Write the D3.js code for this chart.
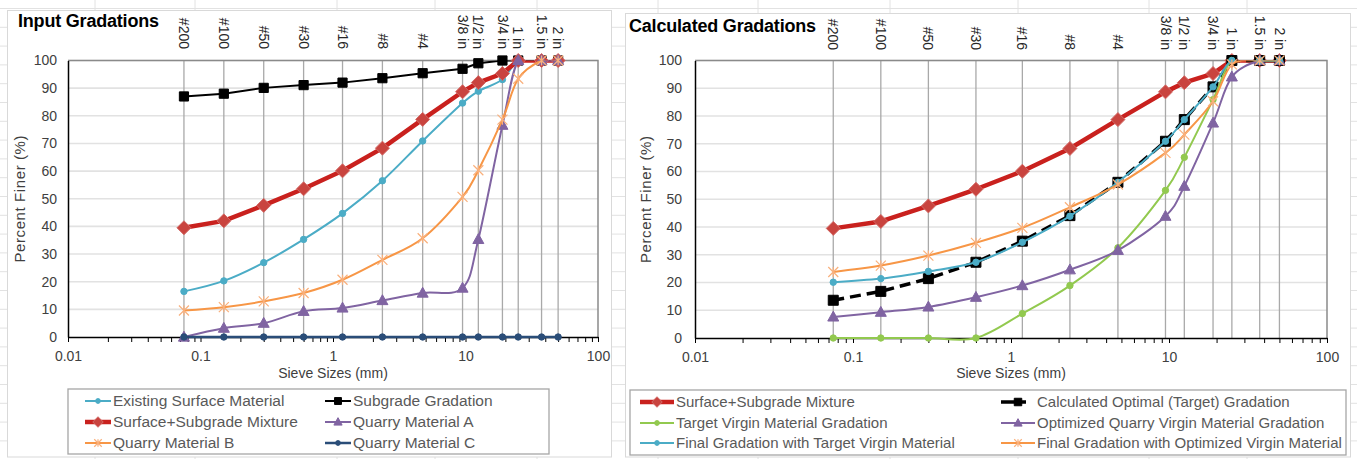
<!DOCTYPE html>
<html>
<head>
<meta charset="utf-8">
<script src="https://cdn.jsdelivr.net/npm/d3@7"></script>
<style>
  body { margin: 0; background: #fff; }
  svg { display: block; font-family: "Liberation Sans", Arial, sans-serif; }
</style>
</head>
<body>
<div id="chart"></div>
<script>
// sieve sizes (mm) and their names
var sieves = [0.075, 0.15, 0.3, 0.6, 1.18, 2.36, 4.75, 9.5, 12.5, 19, 25, 37.5, 50];
var sieveLabels = ["#200", "#100", "#50", "#30", "#16", "#8", "#4", "3/8 in", "1/2 in", "3/4 in", "1 in", "1.5 in", "2 in"];
var xMajorTicks = [0.01, 0.1, 1, 10, 100];
var yTicks = [0, 10, 20, 30, 40, 50, 60, 70, 80, 90, 100];

// input gradations (percent finer)
var existingSurface = [16.5, 20.3, 26.9, 35.3, 44.7, 56.5, 70.9, 84.6, 88.9, 93.1, 100, 100, 100];
var subgrade        = [87, 88, 90.1, 91.1, 92, 93.6, 95.4, 97, 99, 100, 100, 100, 100];
var surfaceSubgrade = [39.5, 42, 47.6, 53.6, 60.1, 68.3, 78.7, 88.7, 92, 95.3, 100, 100, 100];
var quarryA         = [0, 3.2, 5, 9.3, 10.5, 13.2, 15.9, 17.7, 35.3, 76.6, 100, 100, 100];
var quarryB         = [9.6, 10.8, 12.9, 15.9, 20.7, 27.9, 35.7, 50.7, 60.3, 78.6, 93.4, 100, 100];
var quarryC         = [0, 0, 0, 0, 0, 0, 0, 0, 0, 0, 0, 0, 0];

// calculated gradations (percent finer)
var targetGradation   = [13.6, 16.8, 21.4, 27.3, 34.9, 44.1, 56.1, 70.9, 78.7, 90.5, 100, 100, 100];
var targetVirgin      = [0, 0, 0, 0, 8.8, 18.9, 32.5, 53.2, 65.1, 85.9, 100, 100, 100];
var optimizedVirgin   = [7.6, 9.3, 11.2, 14.7, 18.9, 24.6, 31.6, 43.9, 54.7, 77.5, 94.1, 100, 100];
var finalTarget       = [20.1, 21.4, 24, 27.3, 34.5, 43.9, 56.1, 70.9, 78.7, 90.5, 100, 100, 100];
var finalOptimized    = [23.8, 26.1, 29.7, 34.3, 39.7, 47.1, 55.3, 66.7, 73.3, 85.3, 98.6, 100, 100];

var width = 1357, height = 459;

var svg = d3.select("#chart").append("svg")
    .attr("width", width)
    .attr("height", height);

// spreadsheet cells behind the two charts
var cells = svg.append("g").attr("stroke", "#e2e2e2").attr("stroke-width", 1);
d3.range(0, 25).forEach(function(i) {
    var yy = 8.5 + i * 18.8;
    cells.append("line").attr("x1", 0).attr("x2", width).attr("y1", yy).attr("y2", yy);
});
[95, 195, 337, 435, 537, 658, 758, 890, 1018, 1149, 1247].forEach(function(xx) {
    cells.append("line").attr("x1", xx).attr("x2", xx).attr("y1", 0).attr("y2", height);
});

function markerPath(type, s) {
    if (type == "circle") return d3.symbol().type(d3.symbolCircle).size(Math.PI * s * s)();
    if (type == "square") return "M" + (-s) + "," + (-s) + "H" + s + "V" + s + "H" + (-s) + "Z";
    if (type == "diamond") return "M0," + (-s) + "L" + s + ",0L0," + s + "L" + (-s) + ",0Z";
    if (type == "triangle") return "M0," + (-s * 1.05) + "L" + s + "," + (s * 0.75) + "L" + (-s) + "," + (s * 0.75) + "Z";
    if (type == "star") return "M" + (-s) + "," + (-s) + "L" + s + "," + s + "M" + s + "," + (-s) + "L" + (-s) + "," + s + "M0," + (-s) + "V" + s;
    return "";
}

function drawMarker(sel, s, scale) {
    sel.attr("d", markerPath(s.marker, s.size * (scale || 1)))
        .attr("fill", s.marker == "star" ? "none" : s.markerFill)
        .attr("stroke", s.markerStroke)
        .attr("stroke-width", s.marker == "star" ? 1.2 : 1);
}

var chartCount = 0;

function drawChart(opt) {
    var g = svg.append("g");
    var clipId = "plotclip" + (chartCount++);

    // chart area
    g.append("rect")
        .attr("x", opt.area[0]).attr("y", opt.area[1])
        .attr("width", opt.area[2] - opt.area[0]).attr("height", opt.area[3] - opt.area[1])
        .attr("fill", "white").attr("stroke", "#d9d9d9");

    g.append("clipPath").attr("id", clipId)
        .append("rect")
        .attr("x", opt.left).attr("y", opt.top)
        .attr("width", opt.right - opt.left).attr("height", opt.bottom - opt.top + 3);

    var x = d3.scaleLog().domain([0.01, 100]).range([opt.left, opt.right]);
    var y = d3.scaleLinear().domain([0, 100]).range([opt.bottom, opt.top]);

    // horizontal grid
    g.append("g").selectAll("line").data(yTicks.slice(1)).join("line")
        .attr("x1", opt.left).attr("x2", opt.right)
        .attr("y1", d => y(d)).attr("y2", d => y(d))
        .attr("stroke", "#e2e2e2").attr("stroke-width", 1.6);

    // vertical sieve lines
    g.append("g").selectAll("line").data(sieves).join("line")
        .attr("x1", d => x(d)).attr("x2", d => x(d))
        .attr("y1", opt.top).attr("y2", opt.bottom)
        .attr("stroke", "#a9a9a9").attr("stroke-width", 1.3);

    // top and right border of the plot
    g.append("path")
        .attr("d", "M" + opt.left + "," + opt.top + "H" + opt.right + "V" + opt.bottom)
        .attr("fill", "none").attr("stroke", "#8a8a8a").attr("stroke-width", 1.5);

    // x axis with log minor ticks
    var allTicks = [];
    [0.01, 0.1, 1, 10].forEach(function(dec) {
        d3.range(1, 10).forEach(function(k) { allTicks.push(dec * k); });
    });
    allTicks.push(100);
    var xAxis = g.append("g")
        .attr("transform", "translate(0," + opt.bottom + ")")
        .call(d3.axisBottom(x)
            .tickValues(allTicks)
            .tickSize(5)
            .tickSizeOuter(0)
            .tickPadding(9)
            .tickFormat(d => xMajorTicks.some(m => Math.abs(m - d) < 1e-9) ? String(+d.toPrecision(3)) : ""));
    xAxis.attr("font-size", 14).attr("font-family", null);
    xAxis.select(".domain").attr("stroke", "#000").attr("stroke-width", 1.5);
    xAxis.selectAll(".tick line").attr("stroke", "#000").attr("stroke-width", 1);
    xAxis.selectAll(".tick text").attr("fill", "#404040");

    var yAxis = g.append("g")
        .attr("transform", "translate(" + opt.left + ",0)")
        .call(d3.axisLeft(y).tickValues(yTicks).tickSize(0).tickPadding(opt.yPad));
    yAxis.attr("font-size", 14).attr("font-family", null);
    yAxis.select(".domain").attr("stroke", "#000").attr("stroke-width", 1.5);
    yAxis.selectAll(".tick text").attr("fill", "#404040");

    // sieve names above the plot
    g.append("g").selectAll("text").data(sieves).join("text")
        .attr("transform", d => "translate(" + x(d) + "," + opt.labelY + ") rotate(90)")
        .attr("text-anchor", "end")
        .attr("dy", "0.35em")
        .attr("font-size", 14)
        .attr("fill", "#262626")
        .text((d, i) => sieveLabels[i]);

    // titles
    g.append("text")
        .attr("x", opt.titleX).attr("y", opt.titleY)
        .attr("font-size", 18).attr("font-weight", "bold")
        .attr("letter-spacing", -0.2)
        .attr("fill", "#000")
        .text(opt.title);

    g.append("text")
        .attr("x", (opt.left + opt.right) / 2).attr("y", 378)
        .attr("text-anchor", "middle")
        .attr("font-size", 14).attr("fill", "#404040")
        .text("Sieve Sizes (mm)");

    g.append("text")
        .attr("transform", "translate(" + opt.yTitleX + "," + (opt.top + opt.bottom) / 2 + ") rotate(-90)")
        .attr("text-anchor", "middle")
        .attr("dy", "0.35em")
        .attr("font-size", 15).attr("letter-spacing", 0.6)
        .attr("fill", "#404040")
        .text("Percent Finer (%)");

    // series: lines clipped to the plot, markers on top
    opt.series.forEach(function(s) {
        var pts = sieves.map((d, i) => [x(d), y(s.values[i])]);
        var line = d3.line().curve(s.smooth ? d3.curveCatmullRom.alpha(0) : d3.curveLinear);
        g.append("path")
            .attr("clip-path", "url(#" + clipId + ")")
            .attr("d", line(pts))
            .attr("fill", "none")
            .attr("stroke", s.color)
            .attr("stroke-width", s.width)
            .attr("stroke-dasharray", s.dash || null)
            .attr("stroke-linejoin", "round");
        g.append("g").selectAll("path").data(pts).join("path")
            .attr("transform", p => "translate(" + p[0] + "," + p[1] + ")")
            .call(drawMarker, s);
    });

    // legend
    var lb = opt.legendBox;
    g.append("rect")
        .attr("x", lb[0]).attr("y", lb[1])
        .attr("width", lb[2] - lb[0]).attr("height", lb[3] - lb[1])
        .attr("fill", "white").attr("stroke", "#a6a6a6").attr("stroke-width", 1.3);

    opt.series.forEach(function(s, i) {
        var lx = opt.legendCols[i % 2], ly = opt.legendRows[Math.floor(i / 2)];
        var item = g.append("g");
        item.append("line")
            .attr("x1", lx).attr("x2", lx + opt.legendLen)
            .attr("y1", ly).attr("y2", ly)
            .attr("stroke", s.color).attr("stroke-width", s.width)
            .attr("stroke-dasharray", s.dash ? "14,6,5" : null);
        item.append("path")
            .attr("transform", "translate(" + (lx + opt.legendLen / 2) + "," + ly + ")")
            .call(drawMarker, s, 0.75);
        item.append("text")
            .attr("x", lx + opt.legendLen + 2).attr("y", ly)
            .attr("dy", "0.35em")
            .attr("font-size", opt.legendFont).attr("fill", "#595959")
            .text(s.name);
    });
}

var styleCyan = { color: "#4bacc6", width: 2, marker: "circle", size: 3.2, markerFill: "#4bacc6", markerStroke: "#4bacc6", smooth: true };
var styleRed = { color: "#c9211e", width: 4.5, marker: "diamond", size: 7, markerFill: "#c9443f", markerStroke: "#d26a66", smooth: false };
var stylePurple = { color: "#8064a2", width: 2, marker: "triangle", size: 5.5, markerFill: "#8064a2", markerStroke: "#8064a2", smooth: true };
var styleOrange = { color: "#f79646", width: 2, marker: "star", size: 5, markerFill: "none", markerStroke: "#f9b07c", smooth: true };

drawChart({
    title: "Input Gradations", titleX: 18, titleY: 27,
    area: [7.5, 10.5, 611.5, 457],
    left: 68, right: 598, top: 60.5, bottom: 337,
    yPad: 11, yTitleX: 20, labelY: 49,
    legendBox: [68, 389, 549, 454],
    legendCols: [85, 325], legendRows: [401, 422, 443], legendLen: 26, legendFont: 15.5,
    series: [
        Object.assign({ name: "Existing Surface Material", values: existingSurface }, styleCyan),
        { name: "Subgrade Gradation", values: subgrade, color: "#000", width: 2, marker: "square", size: 4.6, markerFill: "#000", markerStroke: "#000", smooth: false },
        Object.assign({ name: "Surface+Subgrade Mixture", values: surfaceSubgrade }, styleRed),
        Object.assign({ name: "Quarry Material A", values: quarryA }, stylePurple),
        Object.assign({ name: "Quarry Material B", values: quarryB }, styleOrange),
        { name: "Quarry Material C", values: quarryC, color: "#2a4d78", width: 2.5, marker: "circle", size: 3.2, markerFill: "#2a4d78", markerStroke: "#2a4d78", smooth: false }
    ]
});

drawChart({
    title: "Calculated Gradations", titleX: 629, titleY: 32,
    area: [625.5, 13.5, 1350.5, 457],
    left: 695, right: 1327, top: 60.5, bottom: 338,
    yPad: 13, yTitleX: 646, labelY: 50,
    legendBox: [630, 390, 1346, 455],
    legendCols: [640, 1001], legendRows: [402, 423, 443], legendLen: 34, legendFont: 15,
    series: [
        Object.assign({ name: "Surface+Subgrade Mixture", values: surfaceSubgrade }, styleRed),
        { name: "Calculated Optimal (Target) Gradation", values: targetGradation, color: "#000", width: 3.5, dash: "11,6", marker: "square", size: 5, markerFill: "#000", markerStroke: "#000", smooth: false },
        { name: "Target Virgin Material Gradation", values: targetVirgin, color: "#92c94f", width: 2, marker: "circle", size: 3.2, markerFill: "#92c94f", markerStroke: "#92c94f", smooth: true },
        Object.assign({ name: "Optimized Quarry Virgin Material Gradation", values: optimizedVirgin }, stylePurple),
        Object.assign({ name: "Final Gradation with Target Virgin Material", values: finalTarget }, styleCyan),
        Object.assign({ name: "Final Gradation with Optimized Virgin Material", values: finalOptimized }, styleOrange)
    ]
});
</script>
</body>
</html>
